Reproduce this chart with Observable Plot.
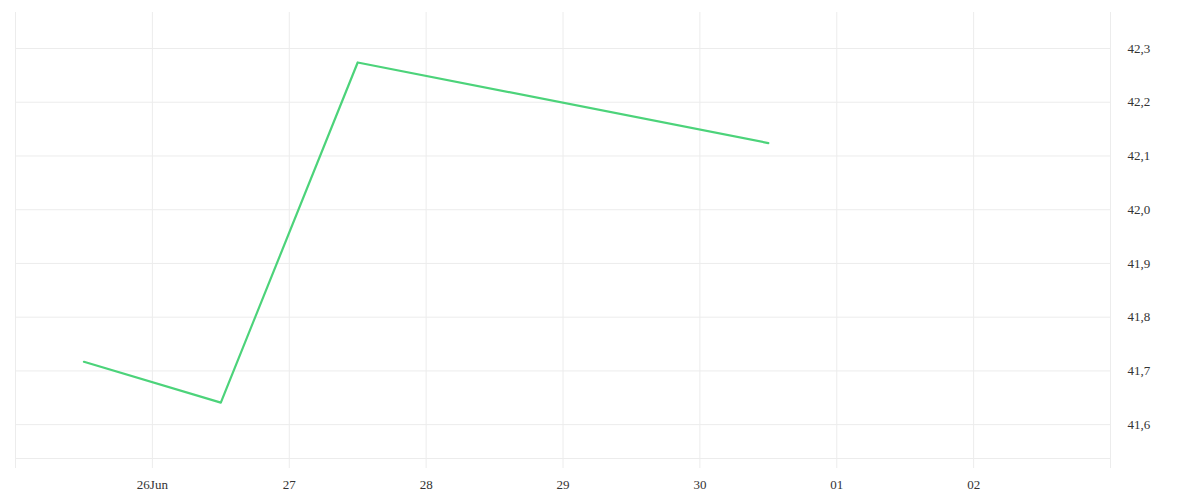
<!DOCTYPE html>
<html>
<head>
<meta charset="utf-8">
<script src="https://cdn.jsdelivr.net/npm/d3@7"></script>
<script src="https://cdn.jsdelivr.net/npm/@observablehq/plot@0.6"></script>
<style>
  html, body { margin: 0; padding: 0; background: #fff; }
  #chart { width: 1200px; height: 500px; }
  #chart svg, #chart svg text { font-family: "Liberation Serif", serif !important; }
</style>
</head>
<body>
<div id="chart"></div>
<script>
const dates = ["2023-06-25T12:00Z", "2023-06-26T12:00Z", "2023-06-27T12:00Z", "2023-06-30T12:00Z"];
const values = [41.717, 41.641, 42.274, 42.124];
const xTickDates = ["2023-06-25", "2023-06-26", "2023-06-27", "2023-06-28", "2023-06-29", "2023-06-30", "2023-07-01", "2023-07-02", "2023-07-03"];
const xTickLabels = ["", "26Jun", "27", "28", "29", "30", "01", "02", ""];
const yTicks = [41.6, 41.7, 41.8, 41.9, 42.0, 42.1, 42.2, 42.3];
const xDomain = ["2023-06-25", "2023-07-03"];
const yDomain = [41.537, 42.367];

const data = dates.map((d, i) => ({date: new Date(d), value: values[i]}));
const xt = xTickDates.map(d => new Date(d));
const labelOf = new Map(xt.map((d, i) => [+d, xTickLabels[i]]));
const fmt = v => d3.format(".1f")(v).replace(".", ",");

const grid = "#ececec";
const chart = Plot.plot({
  width: 1200,
  height: 500,
  marginLeft: 15,
  marginRight: 90,
  marginTop: 12,
  marginBottom: 42,
  style: {fontFamily: "'Liberation Serif', serif", fontSize: "13px", color: "#333", background: "#fff"},
  x: {type: "utc", domain: xDomain.map(d => new Date(d))},
  y: {domain: yDomain},
  marks: [
    Plot.gridY(yTicks, {stroke: grid, strokeOpacity: 1}),
    Plot.gridX(xt, {stroke: grid, strokeOpacity: 1}),
    Plot.ruleY([yDomain[0]], {stroke: grid}),
    Plot.axisX(xt, {tickSize: 10, tickPadding: 11, stroke: grid, fill: "#333", tickFormat: d => labelOf.get(+d), label: null}),
    Plot.axisY(yTicks, {anchor: "right", tickSize: 0, tickPadding: 17, tickFormat: fmt, fill: "#333", label: null}),
    Plot.line(data, {x: "date", y: "value", stroke: "#4cd37a", strokeWidth: 2.2})
  ]
});
document.getElementById("chart").appendChild(chart);
</script>
</body>
</html>
